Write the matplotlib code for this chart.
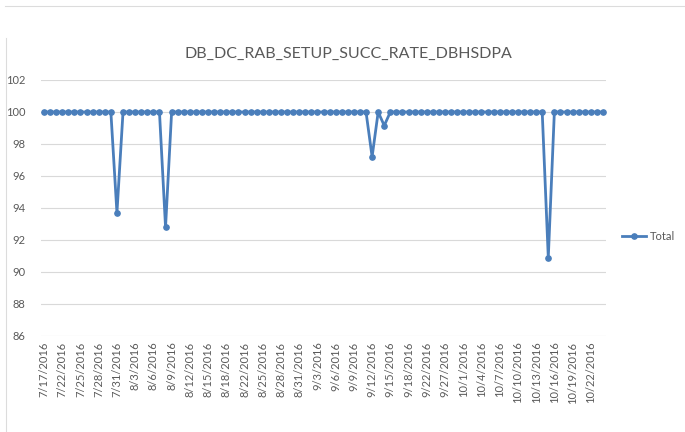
import matplotlib
matplotlib.use("Agg")
import matplotlib.pyplot as plt
import pandas as pd

TITLE = "DB_DC_RAB_SETUP_SUCC_RATE_DBHSDPA"
SERIES_NAME = "Total"

# days with no record in the source sheet
MISSING_DAYS = ["2016-07-18", "2016-07-19", "2016-08-20", "2016-09-20",
                "2016-09-23", "2016-09-26", "2016-09-29"]

all_days = pd.date_range("2016-07-17", "2016-10-24", freq="D")
days = [d for d in all_days if d.strftime("%Y-%m-%d") not in MISSING_DAYS]
date_labels = [f"{d.month}/{d.day}/{d.year}" for d in days]

# success rate (%)
values = [
    100, 100, 100, 100, 100, 100, 100, 100, 100, 100,
    100, 100, 93.7, 100, 100, 100, 100, 100, 100, 100,
    92.8, 100, 100, 100, 100, 100, 100, 100, 100, 100,
    100, 100, 100, 100, 100, 100, 100, 100, 100, 100,
    100, 100, 100, 100, 100, 100, 100, 100, 100, 100,
    100, 100, 100, 100, 97.2, 100, 99.15, 100, 100, 100,
    100, 100, 100, 100, 100, 100, 100, 100, 100, 100,
    100, 100, 100, 100, 100, 100, 100, 100, 100, 100,
    100, 100, 100, 90.9, 100, 100, 100, 100, 100, 100,
    100, 100, 100,
]

y_ticks = [86, 88, 90, 92, 94, 96, 98, 100, 102]

line_color = "#4a7ebb"
text_color = "#595959"
grid_color = "#d9d9d9"

plt.rcParams['font.family'] = ['Lato', 'DejaVu Sans']

fig = plt.figure(figsize=(6.85, 4.32), dpi=100)
ax = fig.add_axes([41 / 685, 1 - 336 / 432, (606 - 41) / 685, (336 - 80) / 432])

x = list(range(len(values)))
ax.plot(x, values, color=line_color, linewidth=2.0, marker='o',
        markersize=3.8, label=SERIES_NAME)

ax.set_xlim(-0.5, len(values) - 0.5)
ax.set_ylim(86, 102)
ax.set_yticks(y_ticks)
ax.set_yticklabels([str(v) for v in y_ticks])
ax.set_xticks(x[::3])
ax.set_xticklabels(date_labels[::3], rotation=90)

ax.grid(axis='y', color=grid_color, linewidth=0.8)
ax.set_axisbelow(True)
for s in ax.spines.values():
    s.set_visible(False)
ax.tick_params(axis='both', length=0, colors=text_color, labelsize=8)
ax.tick_params(axis='y', pad=11)
ax.tick_params(axis='x', pad=4)

fig.text(348 / 685, 1 - 54 / 432, TITLE, ha='center', va='center',
         fontsize=11.5, color=text_color)

fig.legend(loc='center left', bbox_to_anchor=(612 / 685, 1 - 236 / 432),
           frameon=False, fontsize=8, labelcolor=text_color,
           handlelength=2.2, handletextpad=0.3)

# light frame lines of the chart area
fig.add_artist(plt.Line2D([5 / 685, 1], [1 - 6 / 432] * 2, color="#dcdcdc", linewidth=0.8))
fig.add_artist(plt.Line2D([6 / 685] * 2, [0, 1 - 38 / 432], color="#dcdcdc", linewidth=0.8))

fig.savefig("out.png", dpi=100)
